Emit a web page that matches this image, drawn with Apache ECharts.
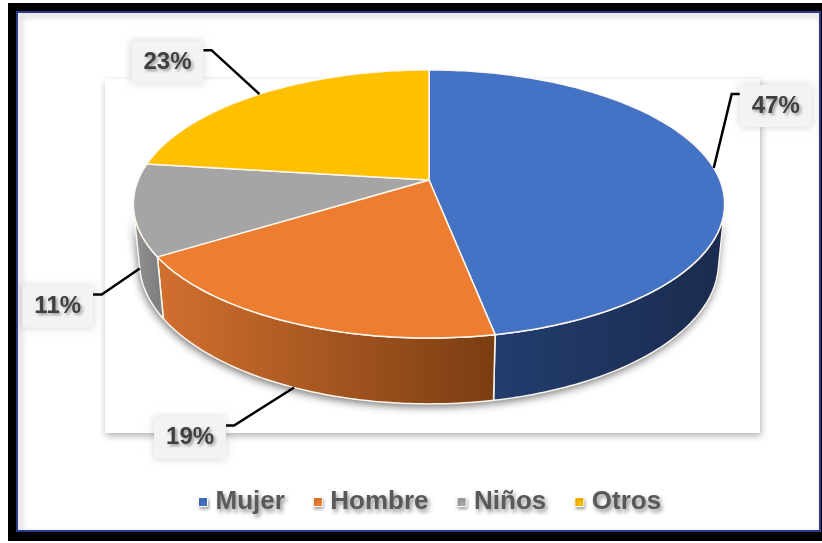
<!DOCTYPE html>
<html>
<head>
<meta charset="utf-8">
<script src="https://cdn.jsdelivr.net/npm/echarts@6/dist/echarts.min.js"></script>
<style>
  html, body { margin: 0; padding: 0; background: #ffffff; }
  #chart { width: 822px; height: 543px; }
</style>
</head>
<body>
<div id="chart"></div>
<script>
// Share of each group, in percent
const categories = ['Mujer', 'Hombre', 'Niños', 'Otros'];
const shares = [47, 19, 11, 23];

const topColors = ['#4472C4', '#ED7D31', '#A5A5A5', '#FFC000'];
const sideColors = [
  ['#233d6e', '#1a2b4e'],
  ['#d2702f', '#7a3d12'],
  ['#939393', '#7b7b7b'],
  ['#c79600', '#a67d00']
];

// Perspective view of the tilted disc
const VIEW = { cx: 429, cy: 180, f: 1454, dist: 5.0, tilt: 26.5 * Math.PI / 180, depth: 0.225 };
// Label placement relative to each slice's anchor point
const LABEL_OFFSET = [[62, -62], [-104, 50], [-82, 38], [-92, -32]];

const SA = Math.sin(VIEW.tilt), CA = Math.cos(VIEW.tilt);
// side wall faces the viewer while cos(phi) < -1/(dist*cos(tilt))
const WALL_FROM = Math.acos(-1 / (VIEW.dist * CA)) * 180 / Math.PI;
const WALL_TO = 360 - WALL_FROM;

// phi: degrees clockwise from the back of the disc; level 0 = top face, 1 = bottom face
function project(phiDeg, level) {
  const p = phiDeg * Math.PI / 180;
  const X = Math.sin(p), Z = -Math.cos(p), Y = -VIEW.depth * level;
  const yc = Y * CA - Z * SA;
  const d = VIEW.dist - (Y * SA + Z * CA);
  return [VIEW.cx + VIEW.f * X / d, VIEW.cy - VIEW.f * yc / d];
}

function arc(a0, a1, level) {
  const pts = [];
  const n = Math.max(2, Math.ceil(Math.abs(a1 - a0)));
  for (let k = 0; k <= n; k++) pts.push(project(a0 + (a1 - a0) * k / n, level));
  return pts;
}

const total = shares.reduce((s, v) => s + v, 0);

function renderSlice(params, api) {
  const idx = params.seriesIndex;
  const value = api.value(0);
  let before = 0;
  for (let k = 0; k < idx; k++) before += shares[k];
  const a0 = before / total * 360;
  const a1 = (before + value) / total * 360;
  const children = [];

  // side wall (front-facing part only)
  const w0 = Math.max(a0, WALL_FROM), w1 = Math.min(a1, WALL_TO);
  if (w1 > w0) {
    const topEdge = arc(w0, w1, 0);
    const botEdge = arc(w0, w1, 1);
    const pts = topEdge.concat(botEdge.reverse());
    const xs = pts.map(p => p[0]);
    const grad = new echarts.graphic.LinearGradient(
      Math.min(...xs), 0, Math.max(...xs), 0,
      [{ offset: 0, color: sideColors[idx][0] }, { offset: 1, color: sideColors[idx][1] }], true);
    // drop shadow under the disc
    children.push({
      type: 'polygon', z2: 0, shape: { points: pts },
      style: { fill: '#000', shadowBlur: 8, shadowColor: 'rgba(0,0,0,0.55)', shadowOffsetY: 3, shadowOffsetX: -1 }
    });
    children.push({
      type: 'polygon', z2: 1, shape: { points: pts },
      style: { fill: grad, stroke: '#fdf6ee', lineWidth: 1.5, lineJoin: 'round' }
    });
  }

  // top face
  const topPts = [[VIEW.cx, VIEW.cy]].concat(arc(a0, a1, 0));
  children.push({
    type: 'polygon', z2: 2, shape: { points: topPts },
    style: { fill: topColors[idx], stroke: '#fdf6ee', lineWidth: 1.5, lineJoin: 'round' }
  });

  // percentage label with leader line
  const mid = (a0 + a1) / 2;
  const level = Math.cos(mid * Math.PI / 180) < 0 ? 1 : 0;
  const anchor = project(mid, level);
  const lx = anchor[0] + LABEL_OFFSET[idx][0];
  const ly = anchor[1] + LABEL_OFFSET[idx][1];
  const side = anchor[0] > lx ? 1 : -1;
  const end = [lx + side * 35, ly - 12];
  const elbow = [end[0] + side * 9, end[1]];
  children.push({
    type: 'polyline', z2: 3, shape: { points: [anchor, elbow, end] },
    style: { stroke: '#000', lineWidth: 2.5, fill: null, lineJoin: 'miter' }
  });
  children.push({
    type: 'text', z2: 4, x: lx, y: ly,
    style: {
      text: value + '%',
      font: 'bold 24px "Liberation Sans", Arial, sans-serif',
      fill: '#404040',
      align: 'center', verticalAlign: 'middle',
      backgroundColor: '#f3f3f3',
      padding: [9, 12, 9, 12],
      shadowBlur: 8, shadowColor: 'rgba(0,0,0,0.16)',
      textShadowColor: 'rgba(0,0,0,0.35)', textShadowBlur: 3,
      textShadowOffsetX: 2, textShadowOffsetY: 2
    }
  });

  return { type: 'group', children };
}

const chart = echarts.init(document.getElementById('chart'), null, { renderer: 'canvas' });

const series = categories.map((name, i) => ({
  type: 'custom',
  name: name,
  coordinateSystem: 'none',
  silent: true,
  itemStyle: { color: topColors[i] },
  data: [[shares[i]]],
  renderItem: renderSlice
}));

chart.setOption({
  animation: false,
  backgroundColor: '#ffffff',
  graphic: [
    { type: 'rect', z: -3, silent: true, shape: { x: 8, y: 3, width: 830, height: 538 }, style: { fill: '#000000' } },
    {
      type: 'rect', z: -2, silent: true, shape: { x: 17, y: 12, width: 803, height: 519 },
      style: { fill: '#ffffff', stroke: '#2c3a8a', lineWidth: 2, shadowBlur: 6, shadowColor: 'rgba(0,0,0,0.35)', shadowOffsetX: 3, shadowOffsetY: 3 }
    },
    {
      type: 'rect', z: -1, silent: true, shape: { x: 105, y: 79, width: 655, height: 354 },
      style: { fill: '#ffffff', shadowBlur: 7, shadowColor: 'rgba(0,0,0,0.3)', shadowOffsetX: 1, shadowOffsetY: 3 }
    }
  ],
  legend: {
    data: categories,
    left: 193,
    top: 484,
    itemGap: 28,
    itemWidth: 15,
    itemHeight: 9,
    icon: 'path://M0,0L10,0L10,10L0,10Z',
    itemStyle: { borderColor: '#ffffff', borderWidth: 1, shadowColor: 'rgba(0,0,0,0.35)', shadowBlur: 3, shadowOffsetX: 1, shadowOffsetY: 2 },
    textStyle: {
      fontFamily: '"Liberation Sans", Arial, sans-serif',
      fontWeight: 'bold',
      fontSize: 26,
      color: '#595959',
      textShadowColor: 'rgba(0,0,0,0.45)',
      textShadowBlur: 4,
      textShadowOffsetX: 2,
      textShadowOffsetY: 3
    }
  },
  series: series
});
</script>
</body>
</html>
